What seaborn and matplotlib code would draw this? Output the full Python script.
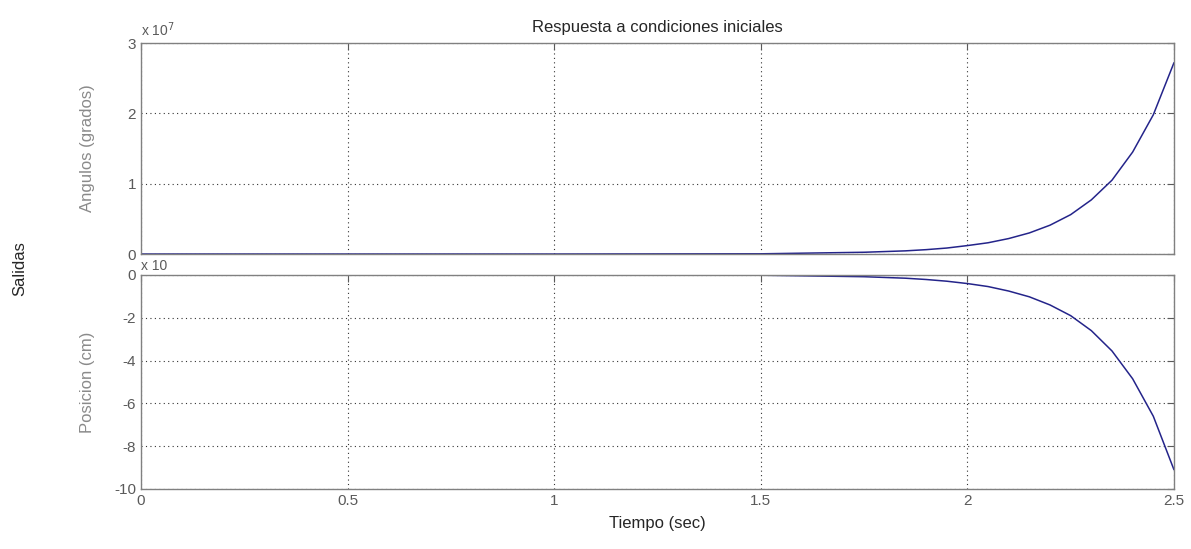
import numpy as np
import pandas as pd
import matplotlib
matplotlib.use('Agg')
import matplotlib.pyplot as plt
from matplotlib.ticker import FormatStrFormatter
import seaborn as sns

# time samples (sec) and responses
tiempo = [0.0, 0.5, 1.0, 1.5, 1.75, 1.85, 1.9, 1.95, 2.0, 2.05, 2.1, 2.15, 2.2,
          2.25, 2.3, 2.35, 2.4, 2.45, 2.5]
# angle, in units of 1e7 grados
angulos = [0.0, 0.0, 0.0, 0.003, 0.025, 0.045, 0.062, 0.085, 0.12, 0.16, 0.22,
           0.30, 0.41, 0.56, 0.77, 1.05, 1.45, 1.98, 2.72]
# position, scaled units as in the picture
posicion = [0.0, 0.0, 0.0, -0.01, -0.08, -0.15, -0.21, -0.29, -0.40, -0.54, -0.75,
            -1.02, -1.40, -1.90, -2.60, -3.55, -4.85, -6.60, -9.10]

df = pd.DataFrame({'t': tiempo, 'ang': angulos, 'pos': posicion})

sns.set_style('white')
plt.rcParams['font.family'] = ['Liberation Sans', 'DejaVu Sans']
plt.rcParams['axes.unicode_minus'] = False

fig = plt.figure(figsize=(11.91, 5.49), dpi=100)
ax1 = fig.add_axes([0.1184, 0.5373, 0.8673, 0.3843])
ax2 = fig.add_axes([0.1184, 0.1093, 0.8673, 0.3898])
ax1.set_zorder(2)
ax2.set_zorder(1)

linec = '#24248a'
tickc = '#5a5a5a'
gridc = '#333333'

sns.lineplot(data=df, x='t', y='ang', ax=ax1, color=linec, linewidth=1.1)
sns.lineplot(data=df, x='t', y='pos', ax=ax2, color=linec, linewidth=1.1)

for ax in (ax1, ax2):
    ax.set_xlim(0, 2.5)
    ax.set_xticks([0, 0.5, 1, 1.5, 2, 2.5])
    ax.xaxis.set_major_formatter(FormatStrFormatter('%g'))
    ax.grid(True, linestyle=(0, (1, 3)), color=gridc, linewidth=0.8)
    ax.tick_params(direction='in', top=True, right=True, length=5,
                   colors=tickc, labelsize=11, width=0.8)
    for s in ax.spines.values():
        s.set_color('#808080')
        s.set_linewidth(1.0)
    ax.set_xlabel('')

ax1.set_ylim(0, 3)
ax1.set_yticks([0, 1, 2, 3])
ax1.set_xticklabels([])
ax1.set_ylabel('Angulos (grados)', color='#8a8a8a', fontsize=12)
ax1.yaxis.set_label_coords(-0.045, 0.5)
ax1.set_title('Respuesta a condiciones iniciales', fontsize=12, pad=8)
ax1.text(0.0, 1.02, 'x 10$^7$', transform=ax1.transAxes, color=tickc,
         fontsize=10, va='bottom', ha='left')

ax2.set_ylim(-10, 0)
ax2.set_yticks([0, -2, -4, -6, -8, -10])
ax2.set_ylabel('Posicion (cm)', color='#8a8a8a', fontsize=12)
ax2.yaxis.set_label_coords(-0.045, 0.5)
ax2.set_xlabel('Tiempo (sec)', fontsize=12, labelpad=6)
ax2.text(0.0, 1.01, 'x 10', transform=ax2.transAxes, color=tickc,
         fontsize=10, va='bottom', ha='left', clip_on=False)

fig.text(0.017, 0.51, 'Salidas', rotation=90, fontsize=12, va='center', ha='center')

fig.savefig('out.png', dpi=100)
